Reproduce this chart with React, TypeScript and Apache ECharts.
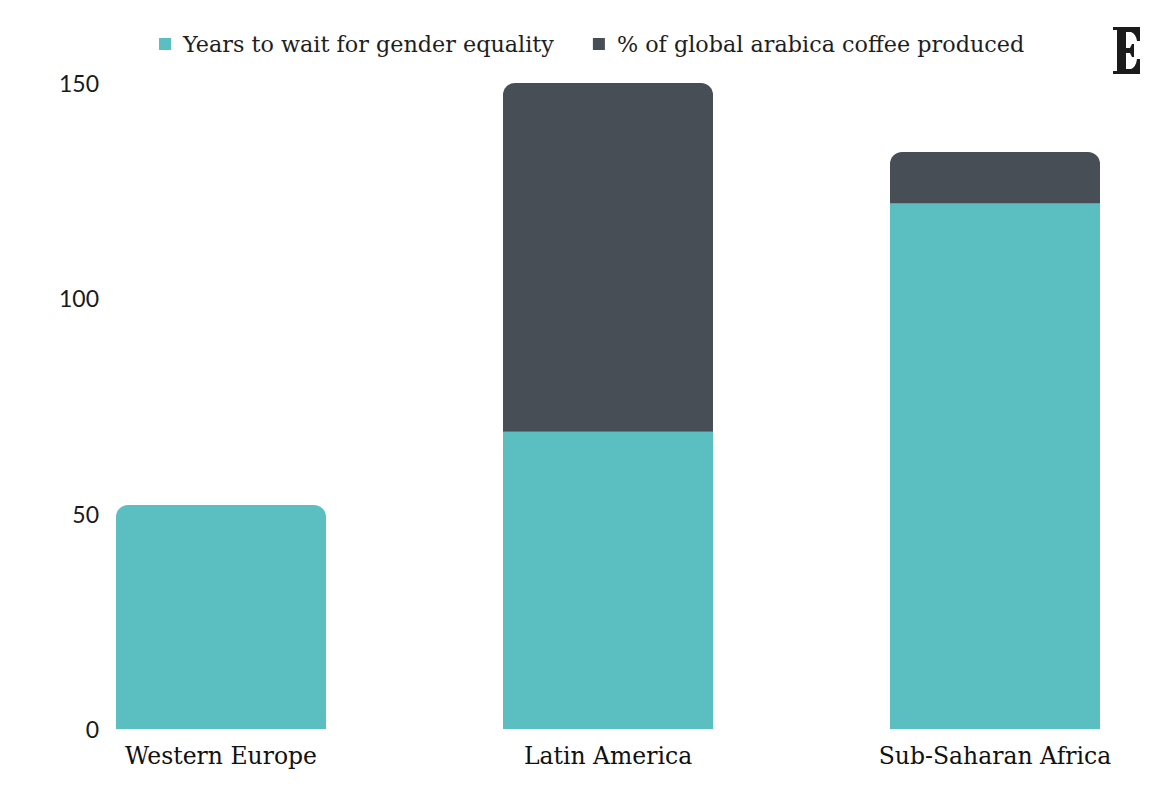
import React, { useEffect, useRef } from "react";
import * as echarts from "echarts";

const categories = ["Western Europe", "Latin America", "Sub-Saharan Africa"];
const yearsToWait = [52, 69, 122];
const arabicaShare = [0, 81, 12];
const yTicks = [0, 50, 100, 150];

const TEAL = "#5bbfc2";
const DARK = "#474e56";
const SERIF = "'DejaVu Serif', serif";
const SANS = "Lato, 'Noto Sans', sans-serif";

const logoPath =
  "M0 0 H27 V14 H24 Q23 7 18 5 H13 V21 H17 L19 17 H21 V30 H19 L17 26 H13 V42 H18 Q23 40 24 32 H27 V47 H0 V44 H4 V3 H0 Z";

let registered = false;
function registerLogo() {
  if (registered) return;
  echarts.graphic.registerShape("logo", echarts.graphic.extendPath(logoPath, {}) as any);
  registered = true;
}

export default function App() {
  const ref = useRef<HTMLDivElement>(null);
  useEffect(() => {
    if (!ref.current) return;
    registerLogo();
    const chart = echarts.init(ref.current, null, { renderer: "svg" });
    const radius = 12;
    chart.setOption({
      animation: false,
      backgroundColor: "#ffffff",
      legend: {
        left: 159,
        top: 33,
        padding: 0,
        itemWidth: 12,
        itemHeight: 12,
        itemGap: 39,
        icon: "rect",
        textStyle: {
          fontFamily: SERIF,
          fontSize: 22.3,
          color: "#1e1e1e",
          padding: [0, 0, 0, 7],
        },
        data: ["Years to wait for gender equality", "% of global arabica coffee produced"],
      },
      grid: { left: 27.5, width: 1161, top: 83, bottom: 71, outerBoundsMode: "none" },
      xAxis: {
        type: "category",
        data: categories,
        axisLine: { show: false },
        axisTick: { show: false },
        axisLabel: {
          fontFamily: SERIF,
          fontSize: 23.5,
          color: "#111",
          margin: 15,
        },
      },
      yAxis: {
        type: "value",
        min: yTicks[0],
        max: yTicks[yTicks.length - 1],
        interval: 50,
        offset: -79.5,
        axisLine: { show: false },
        axisTick: { show: false },
        splitLine: { show: false },
        axisLabel: {
          fontFamily: SANS,
          fontSize: 23,
          color: "#1a1a1a",
          margin: 8,
        },
      },
      series: [
        {
          name: "Years to wait for gender equality",
          type: "bar",
          stack: "total",
          barWidth: 210,
          itemStyle: { color: TEAL },
          data: yearsToWait.map((v, i) => ({
            value: v,
            itemStyle: {
              color: TEAL,
              borderRadius: arabicaShare[i] === 0 ? [radius, radius, 0, 0] : 0,
            },
          })),
        },
        {
          name: "% of global arabica coffee produced",
          type: "bar",
          stack: "total",
          barWidth: 210,
          itemStyle: { color: DARK, borderRadius: [radius, radius, 0, 0] },
          data: arabicaShare.map((v) => (v === 0 ? "-" : v)),
        },
      ],
      graphic: [
        {
          type: "logo",
          x: 1113,
          y: 27,
          style: { fill: "#1b1b1b" },
        },
      ],
    });
    return () => chart.dispose();
  }, []);
  return (
    <div
      ref={ref}
      style={{ position: "absolute", left: 0, top: 0, width: 1160, height: 800 }}
    />
  );
}
